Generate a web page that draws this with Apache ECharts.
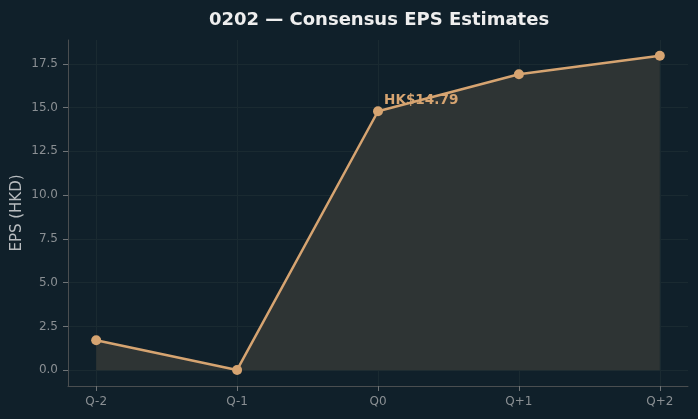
<!DOCTYPE html>
<html><head><meta charset="utf-8">
<script src="https://cdn.jsdelivr.net/npm/echarts@6/dist/echarts.min.js"></script>
<style>html,body{margin:0;padding:0;background:#10202a;}#c{width:698px;height:419px;}</style>
</head><body><div id="c"></div>
<script>
const categories = ['Q-2','Q-1','Q0','Q+1','Q+2'];
const epsValues = [1.71, 0.02, 14.79, 16.9, 17.96];
const yTicks = [0, 2.5, 5, 7.5, 10, 12.5, 15, 17.5];
const annotatedIndex = 2;
const annotationText = 'HK$14.79';

const chart = echarts.init(document.getElementById('c'), null, {renderer:'canvas'});
const lineColor = '#d6a471';
const data = epsValues.map((v,i)=>{
  const item = {value:[i,v]};
  if(i===annotatedIndex){
    item.label = {show:true, position:'right', distance:0, offset:[1,-11], formatter:annotationText,
      color:lineColor, fontWeight:'bold', fontSize:13.6, fontFamily:'DejaVu Sans'};
  }
  return item;
});
chart.setOption({
  backgroundColor:'#10202a',
  animation:false,
  title:{text:'0202 — Consensus EPS Estimates', left:374, textAlign:'center', top:6,
    textStyle:{color:'#eeeeee', fontSize:18, fontWeight:'bold', fontFamily:'DejaVu Sans'}},
  grid:{left:68, right:10, top:40, bottom:33, outerBoundsMode:'none', containLabel:false},
  xAxis:{type:'value', min:-0.2, max:4.2,
    axisLine:{show:true, onZero:false, lineStyle:{color:'#4a4e50'}},
    axisTick:{show:true, length:5, lineStyle:{color:'#6f7477'}, customValues:[0,1,2,3,4]},
    axisLabel:{customValues:[0,1,2,3,4], formatter:v=>categories[Math.round(v)], color:'#8a8f93', fontSize:12, fontFamily:'DejaVu Sans', margin:10},
    splitLine:{show:true, lineStyle:{color:'#1a2a31', width:1}}
  },
  yAxis:{type:'value', min:-0.898, max:18.858,
    name:'EPS (HKD)', nameLocation:'middle', nameGap:43, nameRotate:90, nameMoveOverlap:false,
    nameTextStyle:{color:'#b8bcbf', fontSize:15, fontFamily:'DejaVu Sans'},
    axisLine:{show:true, onZero:false, lineStyle:{color:'#4a4e50'}},
    axisTick:{show:true, length:5, lineStyle:{color:'#6f7477'}, customValues:yTicks},
    axisLabel:{customValues:yTicks, formatter:v=>v.toFixed(1), color:'#8a8f93', fontSize:12, fontFamily:'DejaVu Sans', margin:10},
    splitLine:{show:true, lineStyle:{color:'#1a2a31', width:1}}
  },
  series:[{
    type:'line', data:data, symbol:'circle', symbolSize:10,
    itemStyle:{color:lineColor},
    lineStyle:{color:lineColor, width:2.5},
    areaStyle:{color:'#2e3434', opacity:1, origin:0},
    z:3
  }]
});
</script></body></html>
